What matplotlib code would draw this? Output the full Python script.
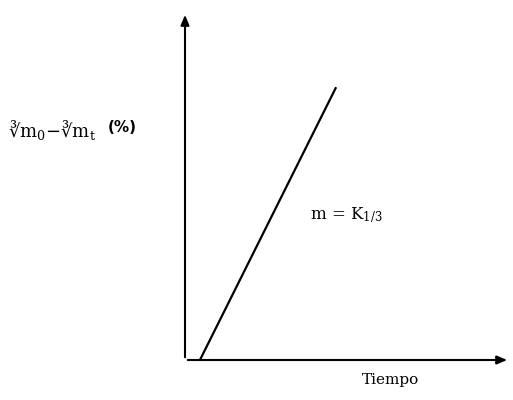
import matplotlib
matplotlib.use("Agg")
import matplotlib.pyplot as plt

# datos de la recta (unidades arbitrarias)
tiempo = [0.46, 4.65]
valor = [0.0, 7.84]

plt.rcParams["mathtext.fontset"] = "dejavuserif"

fig = plt.figure(figsize=(5.13, 4.0), dpi=100)
ax = fig.add_axes([185 / 513, 40 / 400, 325 / 513, 348 / 400])
ax.set_xlim(0, 10)
ax.set_ylim(0, 10)
for s in ax.spines.values():
    s.set_visible(False)
ax.set_xticks([])
ax.set_yticks([])

# ejes con flecha
arrow = dict(arrowstyle="-|>,head_width=0.25,head_length=0.6", color="black", lw=1.5)
ax.annotate("", xy=(0, 1.0), xytext=(0, 0), xycoords="axes fraction", arrowprops=arrow)
ax.annotate("", xy=(1.0, 0), xytext=(0, 0), xycoords="axes fraction", arrowprops=arrow)

ax.plot(tiempo, valor, color="black", lw=1.6, solid_capstyle="butt")

fig.text(8 / 513, 1 - 130 / 400, "\u221Bm$_0$\u2212\u221Bm$_\\mathrm{t}$",
         fontsize=13, va="center", ha="left", family=["DejaVu Serif", "DejaVu Sans"])
fig.text(108 / 513, 1 - 128 / 400, "(%)", fontsize=11, fontweight="bold",
         va="center", ha="left", family="DejaVu Sans")
fig.text(310 / 513, 1 - 215 / 400, r"m = K$_{1/3}$", fontsize=12,
         va="center", ha="left", family="DejaVu Serif")
fig.text(391 / 513, 1 - 380 / 400, "Tiempo", fontsize=11,
         va="center", ha="center", family="DejaVu Serif")

fig.savefig("out.png", dpi=100)
